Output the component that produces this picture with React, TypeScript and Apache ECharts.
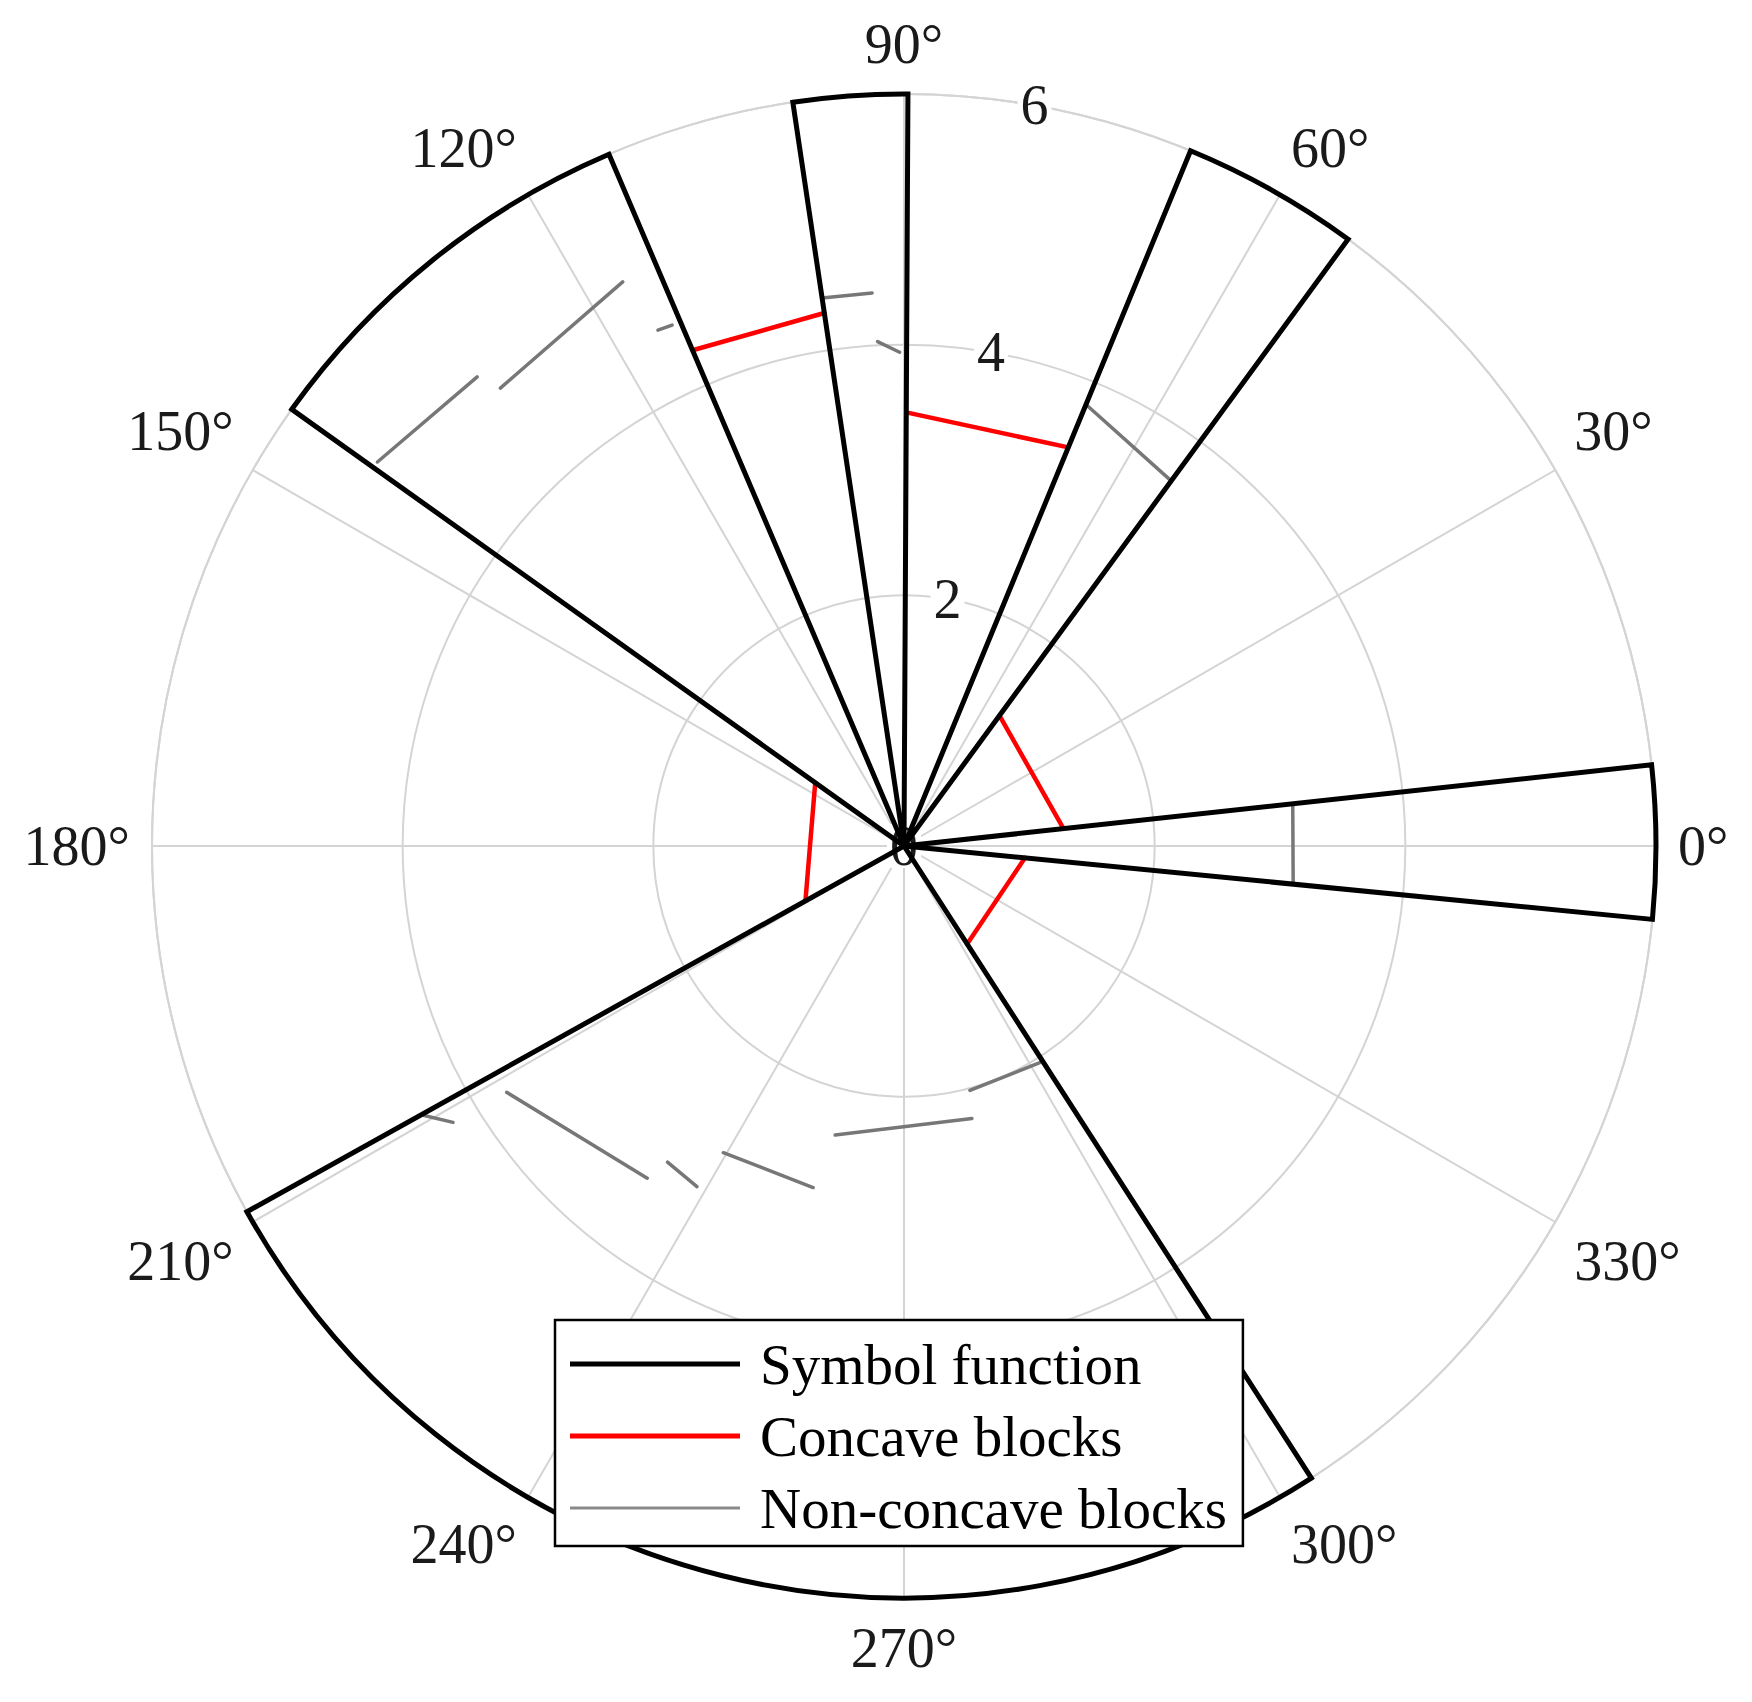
import React, { useEffect, useRef } from 'react';
import * as echarts from 'echarts';

// ---- Data ----
// Symbol function wedges: radius, start angle (deg), end angle (deg), counter-clockwise
const WEDGE_RADIUS = [6, 6, 6, 6, 6];
const WEDGE_START_DEG = [354.4, 53.8, 89.7, 113.1, 209.1];
const WEDGE_END_DEG = [6.2, 67.6, 98.5, 144.5, 302.8];

// Concave blocks: chords [r1, angle1, r2, angle2]
const CONCAVE_SEGMENTS: number[][] = [
  [3.46, 89.7, 3.44, 67.6],
  [4.3, 113.1, 4.3, 98.5],
  [1.29, 53.8, 1.28, 6.2],
  [0.97, 354.4, 0.93, 302.8],
  [0.87, 144.5, 0.9, 209.1],
];

// Non-concave blocks: chords [r1, angle1, r2, angle2]
const NON_CONCAVE_SEGMENTS: number[][] = [
  [3.12, 6.2, 3.12, 354.4],
  [3.81, 67.6, 3.61, 53.8],
  [4.42, 98.5, 4.42, 93.3],
  [4.03, 93.0, 3.94, 90.5],
  [4.56, 115.5, 4.55, 114.0],
  [5.03, 116.5, 4.87, 131.4],
  [5.06, 132.3, 5.2, 143.9],
  [4.41, 209.1, 4.22, 211.5],
  [3.73, 211.8, 3.35, 232.3],
  [3.15, 233.2, 3.18, 238.7],
  [2.84, 239.5, 2.82, 255.1],
  [2.37, 256.6, 2.24, 284.0],
  [2.02, 285.1, 2.04, 302.1],
];

const RADIUS_TICKS = [0, 2, 4, 6];
const RADIUS_LABEL_ANGLE = 80;
const SERIES_NAMES = ['Symbol function', 'Concave blocks', 'Non-concave blocks'];

const FONT = "'Liberation Serif', 'Times New Roman', serif";
const GRID = '#d4d4d4';

export default function App() {
  const ref = useRef<HTMLDivElement>(null);

  useEffect(() => {
    if (!ref.current) return;
    document.body.style.margin = '0';
    const chart = echarts.init(ref.current, undefined, { renderer: 'svg' });

    const wedgeData = WEDGE_RADIUS.map((r, i) => [r, WEDGE_START_DEG[i], WEDGE_END_DEG[i]]);

    const segSeries = (name: string, segs: number[][], color: string, width: number, z: number) =>
      segs.map((s) => ({
        type: 'line',
        name,
        coordinateSystem: 'polar',
        data: [
          [s[0], s[1]],
          [s[2], s[3]],
        ],
        symbol: 'none',
        showSymbol: false,
        silent: true,
        color,
        lineStyle: { color, width, cap: 'round' },
        itemStyle: { color },
        z,
      }));

    const option: any = {
      animation: false,
      backgroundColor: '#ffffff',
      polar: { center: [904, 846], radius: 752 },
      angleAxis: {
        type: 'value',
        min: 0,
        max: 360,
        interval: 30,
        startAngle: 0,
        clockwise: false,
        axisLine: { show: true, lineStyle: { color: GRID, width: 2 } },
        axisTick: { show: false },
        axisLabel: {
          show: true,
          margin: 22,
          fontSize: 56,
          fontFamily: FONT,
          color: '#1a1a1a',
          formatter: (v: number) => (v >= 360 ? '' : `${v}°`),
        },
        splitLine: { show: true, lineStyle: { color: GRID, width: 2 } },
      },
      radiusAxis: {
        type: 'value',
        min: 0,
        max: 6,
        interval: 2,
        axisLine: { show: false },
        axisTick: { show: false },
        axisLabel: { show: false },
        splitLine: { show: true, lineStyle: { color: GRID, width: 2 } },
      },
      legend: {
        orient: 'vertical',
        left: 555,
        top: 1320,
        selectedMode: false,
        backgroundColor: '#ffffff',
        borderColor: '#000000',
        borderWidth: 2.5,
        padding: [14, 16, 8, 15],
        itemWidth: 170,
        itemHeight: 5,
        itemGap: 12,
        textStyle: {
          fontSize: 57,
          fontFamily: FONT,
          color: '#000000',
          lineHeight: 60,
          padding: [0, 0, 0, 15],
        },
        data: [
          { name: SERIES_NAMES[0], icon: 'path://M0 0H170V5H0Z', itemStyle: { color: '#000000', borderWidth: 0 } },
          { name: SERIES_NAMES[1], icon: 'path://M0 0H170V5H0Z', itemStyle: { color: '#ff0000', borderWidth: 0 } },
          { name: SERIES_NAMES[2], icon: 'path://M0 0H170V3H0Z', itemStyle: { color: '#8a8a8a', borderWidth: 0 } },
        ],
        z: 10,
      },
      series: [
        {
          type: 'custom',
          name: 'r-ticks',
          coordinateSystem: 'polar',
          data: RADIUS_TICKS.map((r) => [r, RADIUS_LABEL_ANGLE]),
          silent: true,
          z: 1,
          renderItem: (params: any, api: any) => {
            const p = api.coord([api.value(0), api.value(1)]);
            return {
              type: 'text',
              x: p[0],
              y: p[1],
              style: {
                text: String(api.value(0)),
                fill: '#1a1a1a',
                fontSize: 56,
                fontFamily: FONT,
                align: 'center',
                verticalAlign: 'middle',
                backgroundColor: '#ffffff',
                lineHeight: 44,
                padding: [0, 3],
              },
            };
          },
        },
        ...segSeries(SERIES_NAMES[2], NON_CONCAVE_SEGMENTS, '#777777', 3.5, 3),
        ...segSeries(SERIES_NAMES[1], CONCAVE_SEGMENTS, '#ff0000', 4.5, 4),
        {
          type: 'custom',
          name: SERIES_NAMES[0],
          coordinateSystem: 'polar',
          data: wedgeData,
          silent: true,
          z: 5,
          itemStyle: { color: '#000000' },
          renderItem: (params: any, api: any) => {
            const r = api.value(0);
            const a1 = api.value(1);
            const a2 = api.value(2);
            const c = api.coord([0, a1]);
            const p1 = api.coord([r, a1]);
            const p2 = api.coord([r, a2]);
            const R = Math.hypot(p1[0] - c[0], p1[1] - c[1]);
            const phi1 = Math.atan2(p1[1] - c[1], p1[0] - c[0]);
            const phi2 = Math.atan2(p2[1] - c[1], p2[0] - c[0]);
            const start = phi2;
            let end = phi1;
            if (end < start) end += Math.PI * 2;
            return {
              type: 'sector',
              shape: { cx: c[0], cy: c[1], r0: 0, r: R, startAngle: start, endAngle: end, clockwise: true },
              style: { fill: 'none', stroke: '#000000', lineWidth: 5, lineJoin: 'miter' },
            };
          },
        },
      ],
    };

    chart.setOption(option);
    return () => chart.dispose();
  }, []);

  return (
    <div
      ref={ref}
      style={{ position: 'absolute', left: 0, top: 0, width: 1752, height: 1702, background: '#fff' }}
    />
  );
}
